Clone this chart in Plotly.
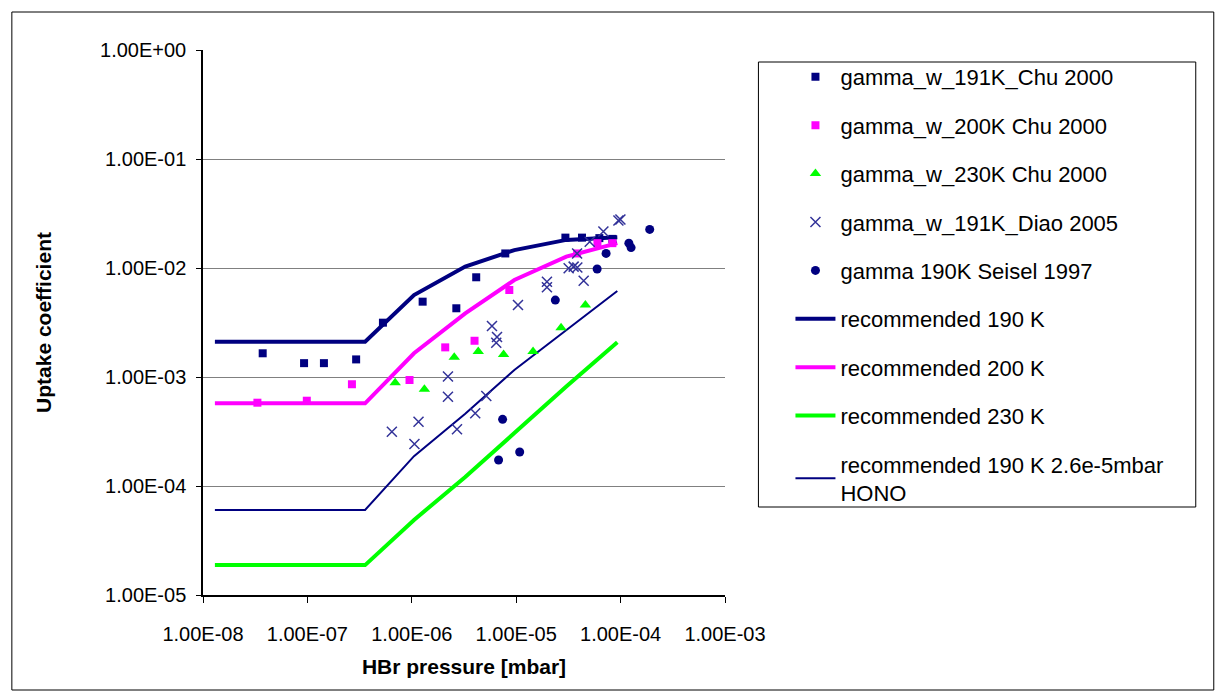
import plotly.graph_objects as go

# ---- data ----
chu191_x = [3.73e-8, 9.29e-8, 1.44e-7, 2.93e-7, 5.29e-7, 1.27e-6, 2.67e-6, 4.14e-6, 7.86e-6, 2.96e-5, 4.27e-5, 6.26e-5, 8.34e-5]
chu191_y = [1.65e-3, 1.34e-3, 1.34e-3, 1.45e-3, 3.15e-3, 4.91e-3, 4.27e-3, 8.22e-3, 1.36e-2, 1.90e-2, 1.90e-2, 1.88e-2, 1.85e-2]

chu200_x = [3.32e-8, 9.87e-8, 2.67e-7, 9.51e-7, 2.09e-6, 3.99e-6, 8.59e-6, 3.83e-5, 6.00e-5, 8.34e-5]
chu200_y = [5.81e-4, 6.06e-4, 8.58e-4, 9.38e-4, 1.87e-3, 2.15e-3, 6.28e-3, 1.36e-2, 1.69e-2, 1.69e-2]

chu230_x = [6.93e-7, 1.32e-6, 2.55e-6, 4.33e-6, 7.57e-6, 1.45e-5, 2.69e-5, 4.60e-5]
chu230_y = [8.87e-4, 7.71e-4, 1.52e-3, 1.71e-3, 1.61e-3, 1.71e-3, 2.83e-3, 4.58e-3]

diao_x = [6.44e-7, 1.16e-6, 1.06e-6, 2.22e-6, 2.22e-6, 2.71e-6, 4.05e-6, 5.17e-6, 5.86e-6, 6.55e-6, 6.44e-6,
          1.04e-5, 1.97e-5, 1.97e-5, 3.18e-5, 3.55e-5, 3.85e-5, 4.43e-5, 3.83e-5, 5.06e-5, 6.84e-5, 9.53e-5, 9.96e-5]
diao_y = [3.15e-4, 3.89e-4, 2.43e-4, 1.01e-3, 6.60e-4, 3.31e-4, 4.65e-4, 6.70e-4, 2.94e-3, 2.33e-3, 2.06e-3,
          4.58e-3, 7.48e-3, 6.65e-3, 9.94e-3, 1.03e-2, 1.01e-2, 7.64e-3, 1.36e-2, 1.74e-2, 2.16e-2, 2.73e-2, 2.79e-2]

seisel_x = [7.41e-6, 6.78e-6, 1.08e-5, 2.37e-5, 5.96e-5, 7.26e-5, 1.20e-4, 1.26e-4, 1.90e-4]
seisel_y = [4.09e-4, 1.73e-4, 2.05e-4, 5.08e-3, 9.79e-3, 1.36e-2, 1.69e-2, 1.54e-2, 2.26e-2]

rec_x = [1.30e-8, 4.02e-8, 1.21e-7, 3.57e-7, 1.05e-6, 3.25e-6, 9.6e-6, 3.02e-5, 9.3e-5]
rec190 = [2.11e-3, 2.11e-3, 2.11e-3, 2.11e-3, 5.65e-3, 1.03e-2, 1.46e-2, 1.81e-2, 1.91e-2]
rec200 = [5.74e-4, 5.74e-4, 5.74e-4, 5.74e-4, 1.65e-3, 3.84e-3, 7.76e-3, 1.27e-2, 1.69e-2]
rec230 = [1.88e-5, 1.88e-5, 1.88e-5, 1.88e-5, 4.88e-5, 1.21e-4, 3.06e-4, 8.18e-4, 2.08e-3]
rec190_hono = [6.03e-5, 6.03e-5, 6.03e-5, 6.03e-5, 1.88e-4, 4.61e-4, 1.16e-3, 2.70e-3, 6.15e-3]

x_ticks = [1e-8, 1e-7, 1e-6, 1e-5, 1e-4, 1e-3]
x_labels = ["1.00E-08", "1.00E-07", "1.00E-06", "1.00E-05", "1.00E-04", "1.00E-03"]
y_ticks = [1e-5, 1e-4, 1e-3, 1e-2, 1e-1, 1e0]
y_labels = ["1.00E-05", "1.00E-04", "1.00E-03", "1.00E-02", "1.00E-01", "1.00E+00"]

NAVY = "#000080"
MAG = "#FF00FF"
GRN = "#00FF00"
XCOL = "#333399"
FONT = "Arial, Liberation Sans, sans-serif"

fig = go.Figure()

lines = [
    ("recommended 190 K", rec190, NAVY, 4, 6),
    ("recommended 200 K", rec200, MAG, 4, 7),
    ("recommended 230 K", rec230, GRN, 4, 8),
    ("recommended 190 K 2.6e-5mbar<br>HONO", rec190_hono, NAVY, 2, 9),
]
for name, ys, col, w, rank in lines:
    fig.add_trace(go.Scatter(x=rec_x, y=ys, mode="lines", name=name,
                             line=dict(color=col, width=w),
                             legendgroup=name, legendrank=rank))

marks = [
    ("gamma_w_191K_Chu 2000", chu191_x, chu191_y, dict(symbol="square", size=8, color=NAVY), 1),
    ("gamma_w_200K Chu 2000", chu200_x, chu200_y, dict(symbol="square", size=8, color=MAG), 2),
    ("gamma_w_230K Chu 2000", chu230_x, chu230_y, dict(symbol="triangle-up", size=10, color=GRN), 3),
    ("gamma_w_191K_Diao 2005", diao_x, diao_y,
     dict(symbol="x-thin", size=10, color=XCOL, line=dict(color=XCOL, width=1.5)), 4),
    ("gamma 190K Seisel 1997", seisel_x, seisel_y, dict(symbol="circle", size=9, color=NAVY), 5),
]
for name, xs, ys, mk, rank in marks:
    fig.add_trace(go.Scatter(x=xs, y=ys, mode="markers", name=name, marker=mk,
                             legendgroup=name, legendrank=rank))

OFF = 8  # page body margin
L, T, R, B = 203 - OFF, 50 - OFF, 724.6 - OFF, 595 - OFF
W, H = 1225 - OFF, 695 - OFF
pw, ph = R - L, B - T

def px(x):
    return (x - OFF - L) / pw

def py(y):
    return (B - (y - OFF)) / ph

fig.update_layout(
    width=W, height=H,
    margin=dict(l=L, r=W - R, t=T, b=H - B, autoexpand=False),
    paper_bgcolor="white", plot_bgcolor="white",
    font=dict(family=FONT, color="black", size=20),
    showlegend=True,
    legend=dict(
        x=px(790), y=py(56), xanchor="left", yanchor="top",
        borderwidth=0, bgcolor="rgba(0,0,0,0)",
        font=dict(size=22, family=FONT),
        traceorder="grouped", tracegroupgap=16.8,
        itemwidth=40,
    ),
    xaxis=dict(
        type="log", range=[-8, -3],
        tickvals=x_ticks, ticktext=x_labels,
        ticks="outside", ticklen=6, tickcolor="black", tickwidth=1,
        showline=True, linecolor="black", linewidth=1.5,
        showgrid=False, zeroline=False,
        tickfont=dict(size=20), ticklabelstandoff=14,
        title=dict(text="<b>HBr pressure [mbar]</b>", font=dict(size=21), standoff=16),
    ),
    yaxis=dict(
        type="log", range=[-5, 0],
        tickvals=y_ticks, ticktext=y_labels,
        ticks="outside", ticklen=5, tickcolor="black", tickwidth=1,
        showline=True, linecolor="black", linewidth=1.5,
        showgrid=True, gridcolor="#808080", gridwidth=1.3,
        zeroline=False,
        tickfont=dict(size=20), ticklabelstandoff=6,
        title=dict(text="<b>Uptake coefficient</b>", font=dict(size=21), standoff=43),
    ),
    shapes=[
        dict(type="rect", xref="paper", yref="paper",
             x0=px(12), x1=px(1213), y0=py(690), y1=py(12),
             line=dict(color="black", width=1), fillcolor="rgba(0,0,0,0)", layer="below"),
        dict(type="rect", xref="paper", yref="paper",
             x0=px(758), x1=px(1195), y0=py(507), y1=py(62),
             line=dict(color="black", width=1), fillcolor="rgba(0,0,0,0)", layer="below"),
    ],
)

fig.write_html("out.html")
